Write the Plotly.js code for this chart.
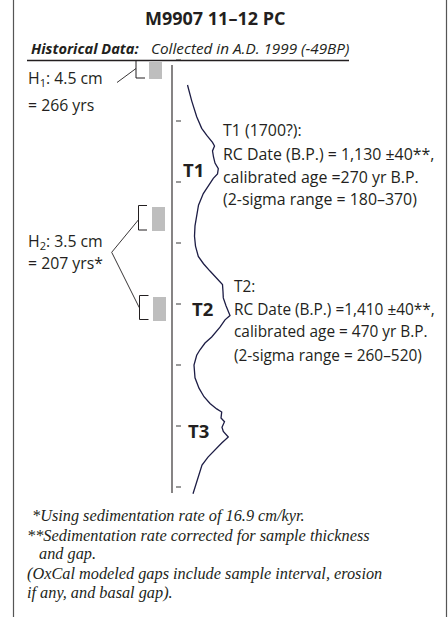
<!DOCTYPE html>
<html>
<head>
<meta charset="utf-8">
<script src="https://cdn.plot.ly/plotly-3.0.1.min.js"></script>
<style>
html,body{margin:0;padding:0;background:#fff;}
#chart{width:448px;height:617px;}
</style>
</head>
<body>
<div id="chart"></div>
<script>
// ---- data (depth in cm, curve value in relative units from core axis) ----
const depthTicks = [0, 10, 20, 30, 40, 50, 60, 70];
const curveDepth = [4.1, 6.7, 9.3, 11.2, 12.4, 13.5, 14.1, 14.9, 15.9, 16.9, 17.8, 18.7, 19.4, 20.7, 21.9, 23.8, 25.4, 27.2, 28.9, 30.5, 32.2, 33.4, 34.6, 35.6, 36.8, 38.0, 39.0, 40.3, 41.9, 42.6, 43.8, 45.4, 46.4, 47.5, 48.4, 50.0, 52.1, 53.8, 55.2, 56.3, 57.2, 57.7, 58.7, 59.3, 60.2, 60.9, 61.8, 62.8, 64.1, 65.1, 66.4, 68.3, 70.0, 71.1];
const curveValue = [15.5, 19.7, 24.7, 29.7, 35.0, 40.5, 42.5, 40.5, 41.5, 43.0, 46.3, 45.5, 41.3, 36.0, 31.3, 26.5, 24.5, 23.0, 22.5, 23.5, 26.3, 31.5, 38.0, 44.0, 50.5, 51.0, 51.3, 54.0, 58.0, 53.0, 48.0, 39.7, 33.0, 28.0, 24.7, 22.0, 23.0, 27.0, 32.0, 38.0, 44.7, 49.7, 49.0, 52.5, 50.0, 51.3, 56.3, 49.7, 42.0, 36.0, 30.0, 26.3, 23.0, 21.0];
const sampleTop = [0.3, 24.1, 38.9];
const sampleBottom = [3.1, 28.0, 42.8];
const unitLabels = ['T1', 'T2', 'T3'];
const unitDepth = [18.0, 40.7, 60.8];
const gapLabels = ['H<sub>1</sub>: 4.5 cm', '= 266 yrs', 'H<sub>2</sub>: 3.5 cm', '= 207 yrs*'];
const t1Lines = ['T1 (1700?):', 'RC Date (B.P.) = 1,130 ±40**,', 'calibrated age =270 yr B.P.', '(2-sigma range = 180–370)'];
const t2Lines = ['T2:', 'RC Date (B.P.) =1,410 ±40**,', 'calibrated age = 470 yr B.P.', '(2-sigma range = 260–520)'];
const footnotes = ['*Using sedimentation rate of 16.9 cm/kyr.', '**Sedimentation rate corrected for sample thickness', 'and gap.', '(OxCal modeled gaps include sample interval, erosion', 'if any, and basal gap).'];

// ---- layout helpers (page position -> axis units) ----
const AX0 = 172, PY0 = 60, PXCM = 6.1;
const X = px => px - AX0;
const Y = py => (py - PY0) / PXCM;

const SANS = '"Open Sans", "Noto Sans", sans-serif';
const SERIF = '"Liberation Serif", "DejaVu Serif", serif';
const ann = [];
function txt(text, px, py, size, opts) {
  ann.push(Object.assign({
    text: text, x: X(px), y: Y(py), xref: 'x', yref: 'y',
    xanchor: 'left', yanchor: 'middle', showarrow: false,
    font: {family: SANS, size: size, color: '#231f20'}
  }, opts || {}));
}

txt('<b>M9907 11–12 PC</b>', 215, 18, 18, {xanchor: 'center'});
txt('<b><i>Historical Data:</i></b>', 29, 48, 14.6);
txt('<i>Collected in A.D. 1999 (-49BP)</i>', 149, 48, 15.3);

const gapY = [78, 105, 241.5, 263];
gapLabels.forEach((t, i) => txt(t, 26, gapY[i], 15.8));

const unitX = [181, 190, 186];
unitLabels.forEach((t, i) => ann.push({
  text: '<b>' + t + '</b>', x: X(unitX[i]), y: unitDepth[i], xref: 'x', yref: 'y',
  xanchor: 'left', yanchor: 'middle', showarrow: false,
  font: {family: SANS, size: 18.5, color: '#231f20'}
}));

const t1Y = [130, 154, 176.7, 199.3];
t1Lines.forEach((t, i) => txt(t, 221, t1Y[i], 15.9));
const t2Y = [286, 309.3, 331.7, 355];
t2Lines.forEach((t, i) => txt(t, 232, t2Y[i], 15.4));

const fnX = [30, 25, 37, 25, 25];
const fnY = [515, 535, 553.5, 573, 592.7];
footnotes.forEach((t, i) => txt('<i>' + t + '</i>', fnX[i], fnY[i], 16, {font: {family: SERIF, size: 16.3, color: '#231f20'}}));

// ---- shapes ----
const shapes = [];
function line(x0, y0, x1, y1, w, c) {
  shapes.push({type: 'line', xref: 'x', yref: 'y', x0: X(x0), y0: Y(y0), x1: X(x1), y1: Y(y1),
    line: {color: c || '#231f20', width: w || 1}});
}
// frame
line(13.5, 0, 13.5, 617, 1.2, '#555');
line(446.5, 0, 446.5, 617, 1.2, '#555');
// rule under header
line(27, 60.5, 349, 60.5, 1.3);
// core axis
line(AX0, 65, AX0, 493, 1.1);
// H1 bracket + leader
line(136, 60.5, 136, 78, 1);
line(136, 78, 145, 78, 1);
line(117, 82.5, 136, 68.5, 0.9);
// H2 brackets + leaders
line(138.5, 205.5, 138.5, 230, 1);
line(138.5, 205.5, 147, 205.5, 1);
line(138.5, 230, 147, 230, 1);
line(139.5, 295.5, 139.5, 319.5, 1);
line(139.5, 295.5, 148.5, 295.5, 1);
line(139.5, 319.5, 148.5, 319.5, 1);
line(111.7, 252.3, 138.3, 220, 0.9);
line(111.7, 252.3, 139.3, 307.7, 0.9);

const sampleX = [X(155.5), X(158.5), X(159.3)];
const traces = [
  {
    type: 'bar', x: sampleX,
    y: sampleTop.map((t, i) => sampleBottom[i] - t),
    base: sampleTop, width: 13,
    marker: {color: '#bebebe', line: {width: 0}},
    hoverinfo: 'skip', showlegend: false
  },
  {
    type: 'scatter', mode: 'lines', x: curveValue, y: curveDepth,
    line: {color: '#1d1d45', width: 1.3, shape: 'linear'},
    hoverinfo: 'skip', showlegend: false
  }
];

const layout = {
  width: 448, height: 617,
  margin: {l: 0, r: 0, t: 0, b: 0, pad: 0},
  paper_bgcolor: '#fff', plot_bgcolor: 'rgba(0,0,0,0)',
  showlegend: false, bargap: 0,
  xaxis: {range: [X(0), X(448)], visible: false, fixedrange: true},
  yaxis: {
    range: [Y(617), Y(0)], anchor: 'free', position: 175 / 448, side: 'right',
    showline: false, showgrid: false, zeroline: false,
    ticks: 'outside', ticklen: 5, tickwidth: 1.3, tickcolor: '#9a9a9a',
    tickvals: depthTicks, showticklabels: false, fixedrange: true
  },
  shapes: shapes,
  annotations: ann
};

Plotly.newPlot('chart', traces, layout, {staticPlot: true, displayModeBar: false});
</script>
</body>
</html>
